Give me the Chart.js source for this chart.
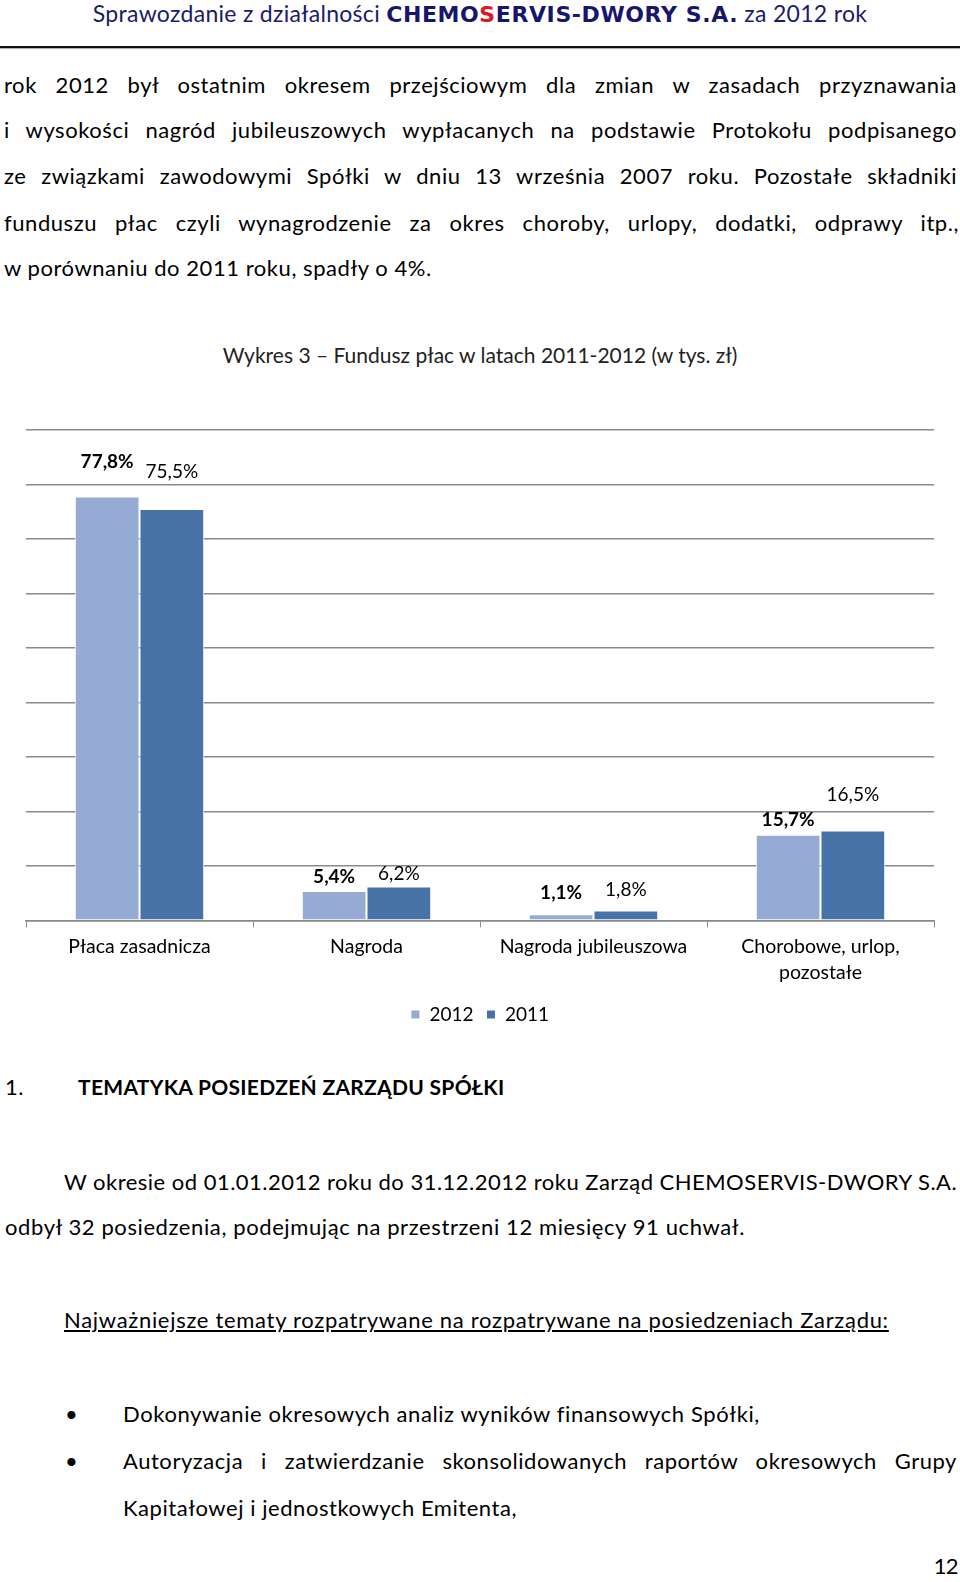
<!DOCTYPE html>
<html lang="pl">
<head>
<meta charset="utf-8">
<title>Wykres 3 – Fundusz płac</title>
<script src="https://cdn.jsdelivr.net/npm/chart.js@4.4.1/dist/chart.umd.min.js"></script>
<style>
  html, body { margin: 0; padding: 0; background: #fff; }
  body { width: 960px; height: 1582px; position: relative; overflow: hidden; font-family: Lato, "Noto Sans", sans-serif; color: #000; }
  .t { position: absolute; font-size: 22px; letter-spacing: 0.55px; line-height: 30px; white-space: nowrap; }
  .j { white-space: normal; text-align: justify; text-align-last: justify; }
  .head { position: absolute; left: 2px; top: 0; width: 956px; text-align: center; font-size: 23px; letter-spacing: 0.3px; line-height: 26px; color: #1b1b6b; white-space: nowrap; }
  .head b { font-family: "DejaVu Sans", sans-serif; font-size: 22px; letter-spacing: 0.6px; color: #16166c; }
  .head b span { color: #e3141b; }
  .rule { position: absolute; left: 0; top: 46px; width: 960px; height: 2px; background: #111; box-shadow: 0 1px 1px #aaa; }
  #chartBox { position: absolute; left: 0; top: 400px; width: 960px; height: 640px; }
</style>
</head>
<body>
<div class="head">Sprawozdanie z działalności <b>CHEMO<span>S</span>ERVIS-DWORY S.A.</b> za 2012 rok</div>
<div class="rule"></div>

<div class="t j" style="left:4px; top:70px; width:953px;">rok 2012 był ostatnim okresem przejściowym dla zmian w zasadach przyznawania</div>
<div class="t j" style="left:4px; top:115px; width:953px;">i wysokości nagród jubileuszowych wypłacanych na podstawie Protokołu podpisanego</div>
<div class="t j" style="left:4px; top:161px; width:953px;">ze związkami zawodowymi Spółki w dniu 13 września 2007 roku. Pozostałe składniki</div>
<div class="t j" style="left:4px; top:208px; width:955px;">funduszu płac czyli wynagrodzenie za okres choroby, urlopy, dodatki, odprawy itp.,</div>
<div class="t" style="left:4px; top:253px;">w porównaniu do 2011 roku, spadły o 4%.</div>

<div class="t" style="left:0; top:340px; width:960px; text-align:center; color:#222; font-size:21px; letter-spacing:0;">Wykres 3 – Fundusz płac w latach 2011-2012 (w tys. zł)</div>

<div id="chartBox"><canvas id="chart" width="960" height="640"></canvas></div>

<div class="t" style="left:5px; top:1072px;">1.</div>
<div class="t" style="left:78px; top:1072px; font-weight:bold; font-size:21px; letter-spacing:0.3px;">TEMATYKA POSIEDZEŃ ZARZĄDU SPÓŁKI</div>
<div class="t" style="left:64px; top:1167px; letter-spacing:0.48px;">W okresie od 01.01.2012 roku do 31.12.2012 roku Zarząd CHEMOSERVIS-DWORY S.A.</div>
<div class="t" style="left:5px; top:1212px; letter-spacing:0.6px;">odbył 32 posiedzenia, podejmując na przestrzeni 12 miesięcy 91 uchwał.</div>
<div class="t" style="left:64px; top:1305px; letter-spacing:0.7px; text-decoration:underline;">Najważniejsze tematy rozpatrywane na rozpatrywane na posiedzeniach Zarządu:</div>
<div class="t" style="left:65px; top:1399px;">•</div>
<div class="t" style="left:123px; top:1399px; letter-spacing:0.6px;">Dokonywanie okresowych analiz wyników finansowych Spółki,</div>
<div class="t" style="left:65px; top:1446px;">•</div>
<div class="t j" style="left:123px; top:1446px; width:834px;">Autoryzacja i zatwierdzanie skonsolidowanych raportów okresowych Grupy</div>
<div class="t" style="left:123px; top:1493px;">Kapitałowej i jednostkowych Emitenta,</div>
<div class="t" style="right:2px; top:1551px; letter-spacing:-0.6px;">12</div>

<script>
// dane wykresu (udział w funduszu płac, %)
const categories = [['Płaca zasadnicza'], ['Nagroda'], ['Nagroda jubileuszowa'], ['Chorobowe, urlop,', 'pozostałe']];
const seriesNames = ['2012', '2011'];
const values2012 = [77.8, 5.4, 1.1, 15.7];
const values2011 = [75.5, 6.2, 1.8, 16.5];
const yMax = 90;
const yStep = 10;

// how far above each bar top its label sits (Excel moved some of them)
const labelLift = [[35, 14, 21, 15], [37, 13, 21, 36]];

const colors = ['#95abd3', '#4672a8'];

function fmtPct(v) {
  return v.toFixed(1).replace('.', ',') + '%';
}

const barLabels = {
  id: 'barLabels',
  afterDatasetsDraw(chart) {
    const ctx = chart.ctx;
    ctx.save();
    ctx.textAlign = 'center';
    ctx.textBaseline = 'middle';
    ctx.fillStyle = '#000';
    chart.data.datasets.forEach((ds, i) => {
      ctx.font = (i === 0 ? 'bold ' : '') + '19px Lato';
      chart.getDatasetMeta(i).data.forEach((bar, j) => {
        ctx.fillText(fmtPct(ds.data[j]), bar.x, bar.y - labelLift[i][j]);
      });
    });
    ctx.restore();
  }
};

const ctx = document.getElementById('chart').getContext('2d');
new Chart(ctx, {
  type: 'bar',
  data: {
    labels: categories,
    datasets: [
      { label: seriesNames[0], data: values2012, backgroundColor: colors[0], borderColor: '#ffffff', borderWidth: 1 },
      { label: seriesNames[1], data: values2011, backgroundColor: colors[1], borderColor: '#ffffff', borderWidth: 1 },
    ],
  },
  options: {
    responsive: false,
    animation: false,
    devicePixelRatio: 1,
    categoryPercentage: 0.57,
    barPercentage: 1,
    layout: { padding: { top: 30, left: 26, right: 26, bottom: 6 } },
    plugins: {
      legend: {
        position: 'bottom',
        labels: {
          color: '#000',
          font: { family: 'Lato', size: 19 },
          boxWidth: 9,
          boxHeight: 9,
          padding: 13,
        },
      },
      tooltip: { enabled: false },
    },
    scales: {
      x: {
        grid: { display: true, drawOnChartArea: false, drawTicks: true, tickLength: 7, color: '#8a8a8a', offset: true },
        border: { display: true, color: '#8a8a8a', width: 1.5 },
        ticks: { color: '#000', font: { family: 'Lato', size: 19.5, lineHeight: 1.35 }, padding: 6, maxRotation: 0, autoSkip: false },
      },
      y: {
        min: 0,
        max: yMax,
        ticks: { display: false, stepSize: yStep },
        grid: { color: '#8a8a8a', lineWidth: 1.5, drawTicks: false },
        border: { display: false },
      },
    },
  },
  plugins: [barLabels],
});
</script>
</body>
</html>
